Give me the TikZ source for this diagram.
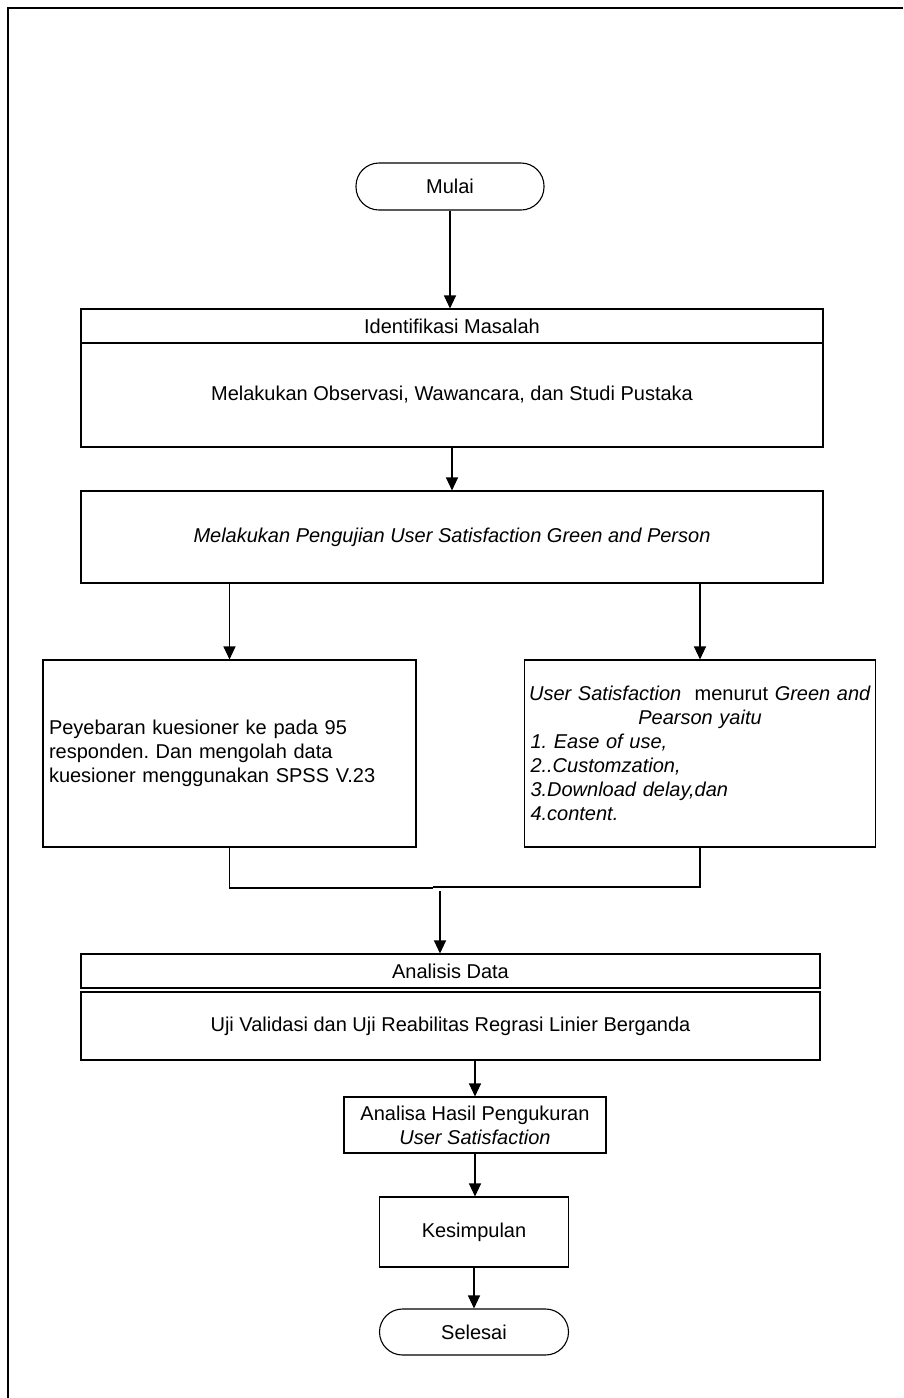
\documentclass[tikz,border=0pt]{standalone}
\usepackage{fontspec}
\setmainfont{Liberation Sans}
\usetikzlibrary{arrows.meta}
\begin{document}
\frenchspacing
\begin{tikzpicture}[x=1pt,y=-1pt,
  box/.style={draw, line width=1.1pt, inner sep=6pt, align=center,
    font=\fontsize{20}{24}\selectfont\frenchspacing},
  term/.style={box, rounded corners=23pt},
  arr/.style={line width=1.1pt, -{Triangle[length=13pt,width=12pt]}},
  ln/.style={line width=1.1pt},
  frame/.style={line width=2pt}]
\useasboundingbox (0,0) rectangle (903,1398);
\draw[frame] (903,8) -- (8,8) -- (8,1398);

\node[term, minimum width=188pt, minimum height=47pt] (mulai) at (450,186.5) {Mulai};
\node[box, minimum width=742pt, minimum height=34pt] (idt) at (452,326) {Identifikasi Masalah};
\node[box, minimum width=742pt, minimum height=104pt] (idb) at (452,395) {Melakukan Observasi, Wawancara, dan Studi Pustaka};
\node[box, minimum width=742pt, minimum height=92pt] (uji) at (452,537) {\itshape Melakukan Pengujian User Satisfaction Green and Person};
\node[box, minimum width=373pt, minimum height=187pt, text width=361pt, align=left] (kiri) at (229.5,753.5)
  {Peyebaran kuesioner ke pada 95\\ responden. Dan mengolah data\\ kuesioner menggunakan SPSS V.23};
\node[box, minimum width=351pt, minimum height=187pt, inner sep=2pt, text width=347pt, align=left] (kanan) at (700,753.5)
  {\centering\textit{User Satisfaction}\ \ menurut \textit{Green and}\\ \textit{Pearson yaitu}\par
   \raggedright\itshape\hspace*{4pt}1. Ease of use,\\ \hspace*{4pt}2..Customzation,\\ \hspace*{4pt}3.Download delay,dan\\ \hspace*{4pt}4.content.\par};
\node[box, minimum width=739pt, minimum height=34pt] (ant) at (450.5,971) {Analisis Data};
\node[box, minimum width=739pt, minimum height=68pt] (anb) at (450.5,1026) {Uji Validasi dan Uji Reabilitas Regrasi Linier Berganda};
\node[box, minimum width=262pt, minimum height=56pt, inner sep=2pt] (hasil) at (475,1125) {Analisa Hasil Pengukuran\\ \textit{User Satisfaction}};
\node[box, minimum width=189pt, minimum height=70pt] (kes) at (474,1232) {Kesimpulan};
\node[term, minimum width=189pt, minimum height=46pt] (selesai) at (474,1332) {Selesai};

\coordinate (ja) at (433,888);
\coordinate (jb) at (433,887);
\coordinate (jc) at (440,891);

\draw[arr] (mulai.south) -- (mulai.south |- idt.north);
\draw[arr] (idb.south) -- (uji.north);
\draw[arr] (kiri.north |- uji.south) -- (kiri.north);
\draw[arr] (kanan.north |- uji.south) -- (kanan.north);
\draw[ln] (kiri.south) -- (kiri.south |- ja) -- (ja);
\draw[ln] (kanan.south) -- (kanan.south |- jb) -- (jb);
\draw[arr] (jc) -- (jc |- ant.north);
\draw[arr] (hasil.north |- anb.south) -- (hasil.north);
\draw[arr] (hasil.south) -- (hasil.south |- kes.north);
\draw[arr] (kes.south) -- (selesai.north);
\end{tikzpicture}
\end{document}
